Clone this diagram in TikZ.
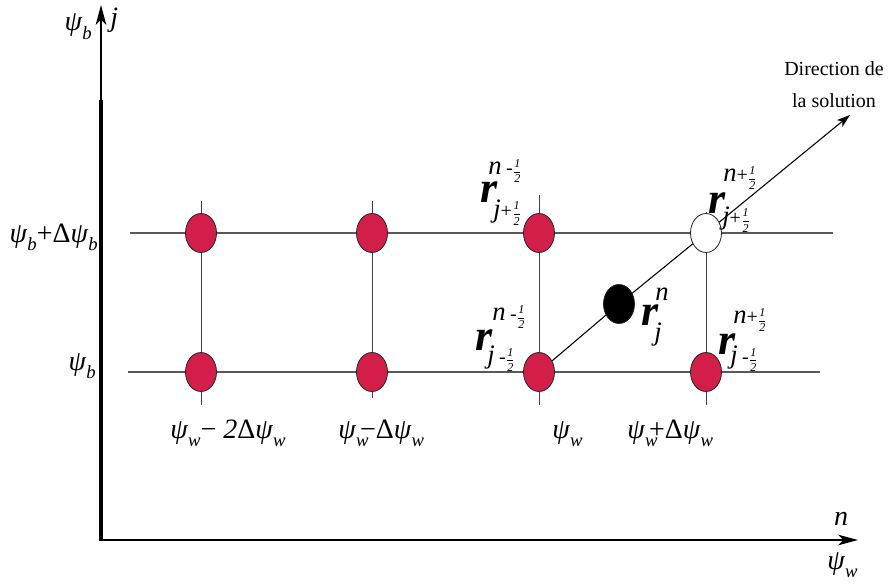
\documentclass[tikz,border=0pt]{standalone}
\usepackage{fontspec}
\setmainfont{Liberation Serif}
\usetikzlibrary{arrows.meta,backgrounds,shapes.geometric}
\definecolor{nodered}{RGB}{210,30,72}
\newcommand\psy{\textit{ψ}}
\newcommand\lo[1]{\raisebox{-0.32em}{\fontsize{14}{14}\selectfont\textit{#1}}}
\newcommand\hf{{\fontsize{9}{10}\selectfont$\displaystyle\frac{\mathit{1}}{\mathit{2}}$}}
\newcommand\myr{{\fontsize{33}{33}\selectfont\textbf{\textit{r}}}}
\newcommand\supn{\fontsize{20}{20}\selectfont\textit{n}}
\newcommand\subj{\fontsize{20}{20}\selectfont\textit{j}}
\newcommand\smallop[1]{{\fontsize{15}{15}\selectfont #1}}
\begin{document}
\begin{tikzpicture}[x=0.75pt,y=-0.75pt,
  dot/.style={ellipse, draw=black!85, line width=0.6pt, minimum width=23.25pt, minimum height=29.25pt, inner sep=0pt},
  reddot/.style={dot, fill=nodered},
  hline/.style={draw=black!65, line width=1.2pt},
  vline/.style={draw=black!75, line width=0.75pt},
  axis/.style={line width=0.9pt, -{Stealth[length=15pt,width=8pt,inset=4pt]}},
  lbl/.style={inner sep=0pt, font=\fontsize{21}{21}\selectfont},
  rpart/.style={inner sep=0pt}]
\useasboundingbox (0,0) rectangle (889,585);
% axes
\coordinate (O) at (101,541);
\coordinate (Yk) at (101,100);
\coordinate (Ytop) at (101,5);
\coordinate (Xend) at (858,540);
\draw[line width=3.6pt] (O) -- (Yk);
\draw[axis] (Yk) -- (Ytop);
\draw[axis] (101,540) -- (Xend);
% nodes
\node[reddot] (t1) at (201,233) {};
\node[reddot] (t2) at (372,233) {};
\node[reddot] (t3) at (539,233) {};
\node[dot, fill=white] (t4) at (706,233) {};
\node[reddot] (b1) at (201,372) {};
\node[reddot] (b2) at (372,372) {};
\node[reddot] (b3) at (539,372) {};
\node[reddot] (b4) at (706,372) {};
\node[dot, fill=black] (blk) at (619,304) {};
\coordinate (hl1) at (130,233); \coordinate (hr1) at (833,233);
\coordinate (hl2) at (128,372); \coordinate (hr2) at (820,372);
\coordinate (v1t) at (201,201); \coordinate (v1b) at (201,405);
\coordinate (v2t) at (372,201); \coordinate (v2b) at (372,398);
\coordinate (v3t) at (539,195); \coordinate (v3b) at (539,405);
\coordinate (v4t) at (706,212); \coordinate (v4b) at (706,405);
\coordinate (dirtip) at (850,115);
\begin{pgfonlayer}{background}
\draw[hline] (hl1) -- (hr1);
\draw[hline] (hl2) -- (hr2);
\draw[vline] (v1t) -- (v1b);
\draw[vline] (v2t) -- (v2b);
\draw[vline] (v3t) -- (v3b);
\draw[vline] (v4t) -- (v4b);
\draw[line width=0.8pt] (b3.center) -- (blk.center) -- (t4.center);
\draw[line width=0.8pt, -{Stealth[length=10pt,width=6.5pt,inset=2.5pt]}] (t4.center) -- (dirtip);
\end{pgfonlayer}
% axis labels
\node[lbl, anchor=base east] (psib) at (92,31) {\psy\lo{b}};
\node[lbl, anchor=base west] (jlab) at (110,27) {\textit{j}};
\node[lbl, anchor=base] (nlab) at (841,525) {\textit{n}};
\node[lbl, anchor=base west] (psiw) at (827,569) {\psy\lo{w}};
\node[lbl, anchor=base east] (ylab1) at (98,242) {\psy\lo{b}+Δ\psy\lo{b}};
\node[lbl, anchor=base east] (ylab2) at (96,370) {\psy\lo{b}};
\node[lbl, anchor=base west] (xlab1) at (170,438) {\psy\lo{w}− \textit{2}Δ\psy\lo{w}};
\node[lbl, anchor=base west] (xlab2) at (338,438) {\psy\lo{w}\kern-0.3em−Δ\psy\lo{w}};
\node[lbl, anchor=base west] (xlab3) at (552,438) {\psy\lo{w}};
\node[lbl, anchor=base west] (xlab4) at (627,438) {\psy\lo{w}\kern-0.3em+Δ\psy\lo{w}};
\node[inner sep=0pt, align=center, font=\fontsize{15}{24}\selectfont] (dirlab) at (834,85) {Direction de\\la solution};
% r labels
\node[rpart, anchor=west] (supA) at (488,171) {\supn\,\smallop{-}\hf};
\node[rpart] (rA) at (489,192) {\myr};
\node[rpart, anchor=west] (subA) at (493,213) {\subj\smallop{+}\hf};
\node[rpart, anchor=west] (supB) at (492,317) {\supn\,\smallop{-}\hf};
\node[rpart] (rB) at (484,340) {\myr};
\node[rpart, anchor=west] (subB) at (487,359) {\subj\,\smallop{-}\hf};
\node[rpart] (supC) at (662,294) {\supn};
\node[rpart] (rC) at (650,315) {\myr};
\node[rpart] (subC) at (658,335) {\subj};
\node[rpart, anchor=west] (supD) at (723,178) {\supn\smallop{+}\hf};
\node[rpart] (rD) at (717,203) {\myr};
\node[rpart, anchor=west] (subD) at (722,220) {\subj\smallop{+}\hf};
\node[rpart, anchor=west] (supE) at (733,320) {\supn\smallop{+}\hf};
\node[rpart] (rE) at (727,344) {\myr};
\node[rpart, anchor=west] (subE) at (730,359) {\subj\,\smallop{-}\hf};
\end{tikzpicture}
\end{document}
